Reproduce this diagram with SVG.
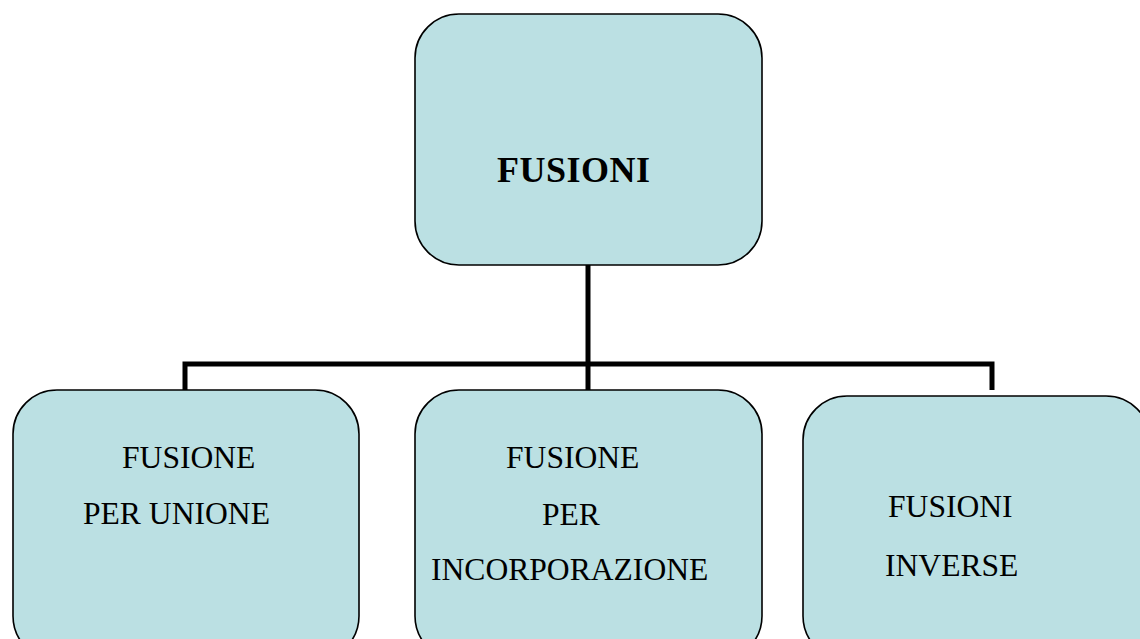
<svg xmlns="http://www.w3.org/2000/svg" width="1140" height="639" viewBox="0 0 1140 639">
<style>
.box{fill:#bbe0e3;stroke:#000;stroke-width:1.6}
.t{font-family:"Liberation Serif","Times New Roman",serif;font-size:31.6px;fill:#000}
.b{font-weight:bold;font-size:36px}
.c{fill:none;stroke:#000;stroke-width:5;stroke-linejoin:miter}
</style>
<rect width="1140" height="639" fill="#fff"/>
<g id="connectors">
<path class="c" d="M588,265 V390"/>
<path class="c" d="M185,390 V364 H992 V390"/>
</g>
<g id="node-fusioni">
<rect class="box" x="415" y="14" width="347" height="251" rx="44" ry="44"/>
<text class="t b" x="497" y="182" textLength="153">FUSIONI</text>
</g>
<g id="node-unione">
<rect class="box" x="13" y="390" width="346" height="270" rx="44" ry="44"/>
<text class="t" x="122" y="468">FUSIONE</text>
<text class="t" x="83" y="524">PER UNIONE</text>
</g>
<g id="node-incorporazione">
<rect class="box" x="415" y="390" width="347" height="270" rx="44" ry="44"/>
<text class="t" x="506" y="468">FUSIONE</text>
<text class="t" x="542" y="525">PER</text>
<text class="t" x="431" y="580">INCORPORAZIONE</text>
</g>
<g id="node-inverse">
<rect class="box" x="803" y="396" width="347" height="264" rx="44" ry="44"/>
<text class="t" x="888" y="517">FUSIONI</text>
<text class="t" x="885" y="576">INVERSE</text>
</g>
</svg>
